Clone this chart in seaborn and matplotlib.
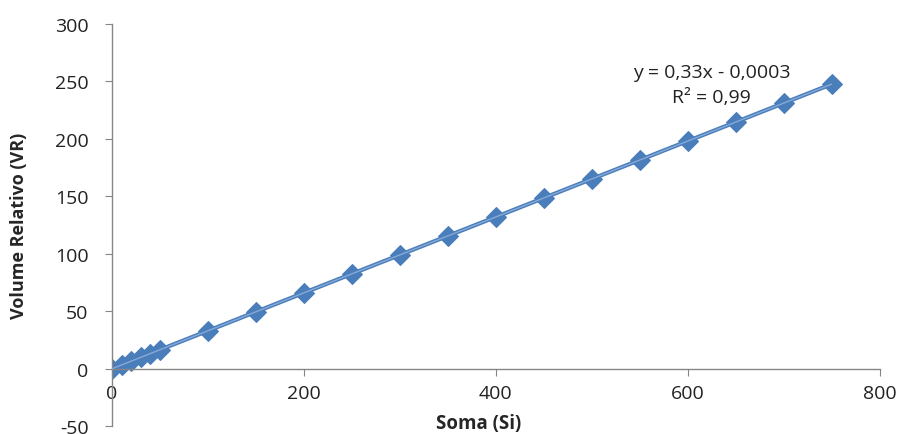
import numpy as np
import pandas as pd
import seaborn as sns
import matplotlib.pyplot as plt

# data
soma = [0, 10, 20, 30, 40, 50, 100, 150, 200, 250, 300, 350, 400,
        450, 500, 550, 600, 650, 700, 750]
volume = [0, 3.3, 6.6, 9.9, 13.2, 16.5, 33, 49.5, 66, 82.5, 99, 115.5, 132,
          148.5, 165, 181.5, 198, 214.5, 231, 247.5]
slope = 0.33
intercept = -0.0003
eq_text = "y = 0,33x - 0,0003"
r2_text = "R² = 0,99"

df = pd.DataFrame({"Soma (Si)": soma, "Volume Relativo (VR)": volume})

sns.set_style("white")
plt.rcParams["font.family"] = ["Open Sans", "DejaVu Sans"]
plt.rcParams["axes.unicode_minus"] = False

fig = plt.figure(figsize=(9.04, 4.35), dpi=100)
ax = fig.add_axes([0.124, 0.018, 0.849, 0.925])

blue = "#4A7EBB"
sns.lineplot(data=df, x="Soma (Si)", y="Volume Relativo (VR)", ax=ax,
             color=blue, linewidth=3, marker="D", markersize=10,
             markeredgecolor=blue, markerfacecolor=blue)

# linear trendline
xs = np.array([min(soma), max(soma)])
ax.plot(xs, slope * xs + intercept, color="#86A9D8", linewidth=1.0, zorder=5)

ax.set_xlim(0, 800)
ax.set_ylim(-50, 300)
ax.set_xticks([0, 200, 400, 600, 800])
ax.set_yticks(range(-50, 301, 50))

ax.spines["top"].set_visible(False)
ax.spines["right"].set_visible(False)
ax.spines["bottom"].set_position(("data", 0))
for s in ["left", "bottom"]:
    ax.spines[s].set_color("#868686")
    ax.spines[s].set_linewidth(1.0)

ax.tick_params(axis="both", which="both", direction="out", length=5,
               color="#868686", labelsize=14, labelcolor="#222222",
               left=True, bottom=True)
ax.tick_params(axis="y", pad=12)
ax.tick_params(axis="x", pad=6)

ax.set_xlabel("Soma (Si)", fontsize=13.5, fontweight="bold")
ax.set_ylabel("Volume Relativo (VR)", fontsize=13, fontweight="bold")
ax.xaxis.set_label_coords(0.478, 0.032)
ax.yaxis.set_label_coords(-0.11, 0.5)

ax.text(625, 258, eq_text, ha="center", va="center", fontsize=14, color="#222222")
ax.text(625, 236, r2_text, ha="center", va="center", fontsize=14, color="#222222")

fig.savefig("out.png", dpi=100)
